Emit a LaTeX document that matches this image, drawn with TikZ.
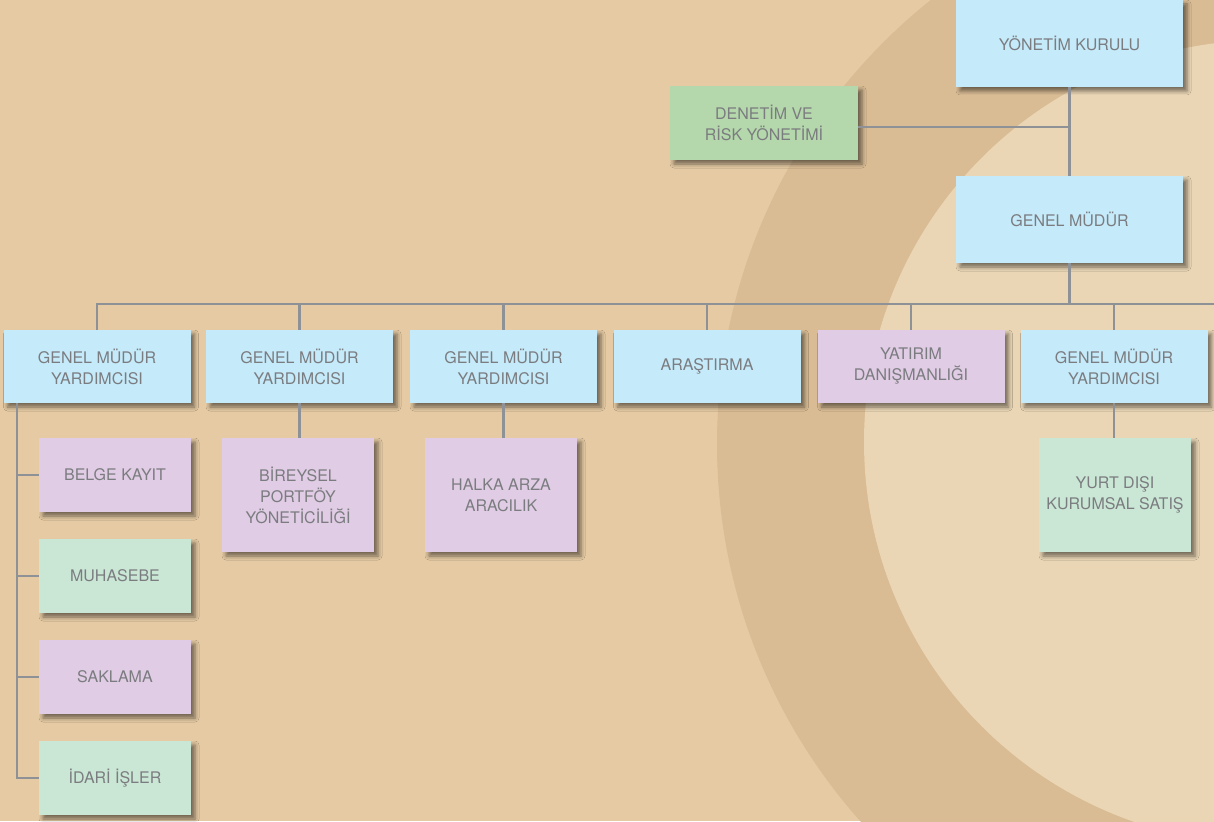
\documentclass[tikz,border=0pt]{standalone}
\usepackage{fontspec}
\setmainfont{TeX Gyre Heros}
\usetikzlibrary{shadows.blur}
\definecolor{paper}{HTML}{E5CAA3}
\definecolor{paperband}{HTML}{D9BC94}
\definecolor{paperlight}{HTML}{EAD6B5}
\definecolor{boxblue}{HTML}{C5EAFA}
\definecolor{boxpink}{HTML}{E0CCE4}
\definecolor{boxgreen}{HTML}{B4D8AB}
\definecolor{boxmint}{HTML}{CAE7D5}
\definecolor{linegray}{HTML}{8E9196}
\definecolor{textgray}{HTML}{7B7C80}
\begin{document}
\begin{tikzpicture}[x=1pt,y=-1pt,
 unit/.style={rectangle,inner sep=0pt,align=center,text=textgray,
  font=\fontsize{16}{21}\selectfont,
  blur shadow={shadow xshift=4pt,shadow yshift=-4pt,shadow blur radius=4pt,shadow opacity=50}},
 bluebox/.style={unit,fill=boxblue},
 pinkbox/.style={unit,fill=boxpink},
 greenbox/.style={unit,fill=boxgreen},
 mintbox/.style={unit,fill=boxmint},
 wide/.style={minimum width=227pt,minimum height=87pt},
 row/.style={minimum width=187pt,minimum height=73pt},
 small/.style={minimum width=152pt,minimum height=74pt},
 tall/.style={minimum width=152pt,minimum height=114pt},
 link/.style={draw=linegray,line width=2.8pt}]
 % paper background
 \useasboundingbox (0,0) rectangle (1214,821);
 \fill[paper] (0,0) rectangle (1214,821);
 \begin{scope}
  \clip (0,0) rectangle (1214,821);
  \fill[paperband] (1285,444) circle [radius=568pt];
  \fill[paperlight] (1266,442) circle [radius=402pt];
 \end{scope}
 % top
 \node[bluebox,wide] (yk) at (1069.5,43.5) {YÖNETİM KURULU};
 \node[greenbox,minimum width=188pt,minimum height=74pt] (dry) at (764,123) {DENETİM VE\\RİSK YÖNETİMİ};
 \node[bluebox,wide] (gm) at (1069.5,219.5) {GENEL MÜDÜR};
 % second row
 \node[bluebox,row] (gmy1) at (97,366.5) {GENEL MÜDÜR\\YARDIMCISI};
 \node[bluebox,row] (gmy2) at (299.5,366.5) {GENEL MÜDÜR\\YARDIMCISI};
 \node[bluebox,row] (gmy3) at (503.5,366.5) {GENEL MÜDÜR\\YARDIMCISI};
 \node[bluebox,row] (arge) at (707,366.5) {ARAŞTIRMA};
 \node[pinkbox,row] (yd) at (911,366.5) {YATIRIM\\DANIŞMANLIĞI};
 \node[bluebox,row] (gmy4) at (1114,366.5) {GENEL MÜDÜR\\YARDIMCISI};
 % units
 \node[pinkbox,small] (belge) at (115,475) {BELGE KAYIT};
 \node[mintbox,small] (muh) at (115,576) {MUHASEBE};
 \node[pinkbox,small] (sak) at (115,677) {SAKLAMA};
 \node[mintbox,small] (idari) at (115,778) {İDARİ İŞLER};
 \node[pinkbox,tall] (bpy) at (298,495) {BİREYSEL\\PORTFÖY\\YÖNETİCİLİĞİ};
 \node[pinkbox,tall] (halka) at (501,495) {HALKA ARZA\\ARACILIK};
 \node[mintbox,tall] (yurt) at (1115,495) {YURT DIŞI\\KURUMSAL SATIŞ};
 % links
 \coordinate (jdry) at (1069.5,127);
 \coordinate (bus) at (1069.5,304);
 \coordinate (busend) at (1214,304);
 \coordinate (spine) at (17,403);
 \draw[link] (yk) -- (gm);
 \draw[link] (jdry) -- (jdry -| dry.east);
 \draw[link] (gm) -- (bus);
 \draw[link] (gmy1.north) |- (busend);
 \foreach \n in {gmy2,gmy3,arge,yd,gmy4}
  \draw[link] (\n.north) -- (\n.north |- bus);
 \draw[link] (gmy2.south) -- (gmy2.south |- bpy.north);
 \draw[link] (gmy3.south) -- (gmy3.south |- halka.north);
 \draw[link] (gmy4.south) -- (gmy4.south |- yurt.north);
 \draw[link] (spine) |- (idari.west);
 \foreach \n in {belge,muh,sak}
  \draw[link] (spine |- \n.west) -- (\n.west);
\end{tikzpicture}
\end{document}
